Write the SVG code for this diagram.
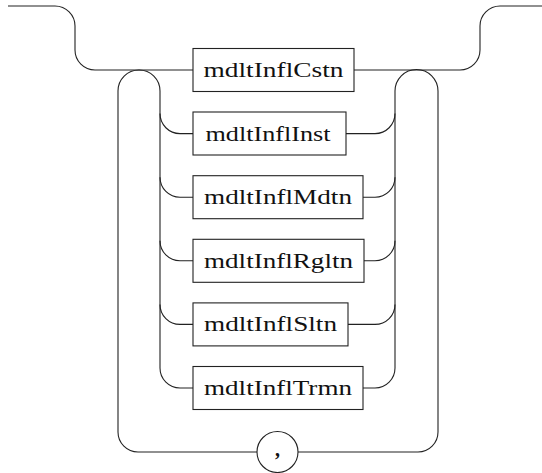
<svg xmlns="http://www.w3.org/2000/svg" width="542" height="473" viewBox="0 0 542 473">
  <style>
    .rail { fill: none; stroke: #222; stroke-width: 1.1; }
    .box { fill: #fff; stroke: #222; stroke-width: 1.1; }
    .lbl { font-family: "Liberation Serif", "DejaVu Serif", serif; font-size: 20px; fill: #111; text-anchor: middle; }
  </style>
  <rect width="542" height="473" fill="#fff"/>

  <!-- connectors -->
  <g id="connectors" class="rail">
    <!-- top bypass and drop into the main line -->
    <path d="M8 6 H55 A20 20 0 0 1 75 26 V50 A20 20 0 0 0 95 70 H193"/>
    <path d="M354 70 H460 A20 20 0 0 0 480 50 V26 A20 20 0 0 1 500 6 H542"/>
    <!-- left choice rail with arch over the main line -->
    <path d="M118 432 V91 A21 21 0 0 1 160 91 V368"/>
    <!-- right choice rail with arch -->
    <path d="M395 368 V91 A21.5 21.5 0 0 1 438 91 V432"/>
    <!-- branches, left side -->
    <path d="M160 113.6 A20 20 0 0 0 180 133.6 H193"/>
    <path d="M160 177.2 A20 20 0 0 0 180 197.2 H193"/>
    <path d="M160 240.8 A20 20 0 0 0 180 260.8 H193"/>
    <path d="M160 304.4 A20 20 0 0 0 180 324.4 H193"/>
    <path d="M160 368 A20 20 0 0 0 180 388 H193"/>
    <!-- branches, right side -->
    <path d="M346 133.6 H375 A20 20 0 0 0 395 113.6"/>
    <path d="M363 197.2 H375 A20 20 0 0 0 395 177.2"/>
    <path d="M364 260.8 H375 A20 20 0 0 0 395 240.8"/>
    <path d="M348 324.4 H375 A20 20 0 0 0 395 304.4"/>
    <path d="M363 388 H375 A20 20 0 0 0 395 368"/>
    <!-- repeat loop underneath -->
    <path d="M118 432 A20 20 0 0 0 138 452 H257"/>
    <path d="M298 452 H418 A20 20 0 0 0 438 432"/>
  </g>

  <g id="n_cstn">
    <rect class="box" x="193" y="48.5" width="161" height="43"/>
    <text class="lbl" x="273.5" y="77" textLength="140" lengthAdjust="spacingAndGlyphs">mdltInflCstn</text>
  </g>
  <g id="n_inst">
    <rect class="box" x="193" y="112" width="153" height="43"/>
    <text class="lbl" x="268" y="140.6" textLength="125" lengthAdjust="spacingAndGlyphs">mdltInflInst</text>
  </g>
  <g id="n_mdtn">
    <rect class="box" x="193" y="175.7" width="170" height="43"/>
    <text class="lbl" x="278" y="204.2" textLength="148" lengthAdjust="spacingAndGlyphs">mdltInflMdtn</text>
  </g>
  <g id="n_rgltn">
    <rect class="box" x="193" y="239.3" width="171" height="43"/>
    <text class="lbl" x="278.5" y="267.8" textLength="149" lengthAdjust="spacingAndGlyphs">mdltInflRgltn</text>
  </g>
  <g id="n_sltn">
    <rect class="box" x="193" y="302.9" width="155" height="43"/>
    <text class="lbl" x="270.5" y="331.4" textLength="133" lengthAdjust="spacingAndGlyphs">mdltInflSltn</text>
  </g>
  <g id="n_trmn">
    <rect class="box" x="193" y="366.5" width="170" height="43"/>
    <text class="lbl" x="278" y="395" textLength="148" lengthAdjust="spacingAndGlyphs">mdltInflTrmn</text>
  </g>
  <g id="n_comma">
    <circle class="box" cx="277.5" cy="452" r="20.5"/>
    <text class="lbl" x="277.5" y="456" style="font-weight:bold">,</text>
  </g>
</svg>
